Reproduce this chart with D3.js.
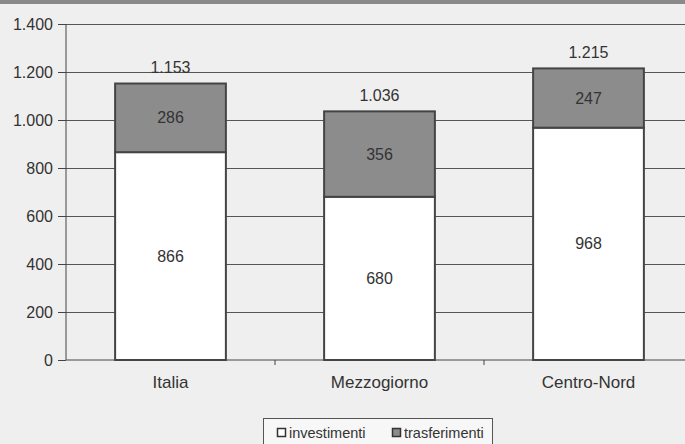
<!DOCTYPE html>
<html><head><meta charset="utf-8">
<script src="https://cdn.jsdelivr.net/npm/d3@7"></script>
<style>body{margin:0;background:#efefef;}svg{display:block;}svg text{font-family:"Liberation Sans",Arial,sans-serif;}</style>
</head><body><svg id="c" width="685" height="444"></svg>
<script>
const categories = ["Italia", "Mezzogiorno", "Centro-Nord"];
const investimenti = [866, 680, 968];
const trasferimenti = [286, 356, 247];
const totals = ["1.153", "1.036", "1.215"];
const yTicks = [0, 200, 400, 600, 800, 1000, 1200, 1400];
const seriesNames = ["investimenti", "trasferimenti"];
const seriesColors = ["#ffffff", "#8c8c8c"];

const fmt = v => d3.format(",")(v).replace(/,/g, ".");
const svg = d3.select("#c");
svg.append("rect").attr("width",685).attr("height",444).attr("fill","#efefef");
svg.append("rect").attr("width",685).attr("height",4).attr("fill","#8a8a8a");

const x = d3.scaleBand().domain(categories).range([66, 693]).paddingInner(0.47).paddingOuter(0.235);
const y = d3.scaleLinear().domain([0, 1400]).range([360, 24]);

// gridlines
svg.append("g").selectAll("line").data(yTicks.filter(t=>t>0)).join("line")
  .attr("x1",66).attr("x2",693).attr("y1",d=>y(d)).attr("y2",d=>y(d))
  .attr("stroke","#555").attr("stroke-width",1).attr("shape-rendering","crispEdges");

// y axis
const ya = svg.append("g").attr("transform","translate(66,0)")
  .call(d3.axisLeft(y).tickValues(yTicks).tickFormat(fmt).tickSize(8).tickPadding(5));
ya.select(".domain").attr("stroke","#444").attr("d","M0,24V360");
ya.selectAll(".tick line").attr("stroke","#444");
ya.selectAll("text").attr("fill","#333").style("font-size","16px");

// x axis
const bounds = [66, 66 + 209, 66 + 418, 693];
const xa = svg.append("g").attr("transform","translate(0,360)")
  .call(d3.axisBottom(x).tickSize(0).tickPadding(16));
xa.select(".domain").attr("stroke","#444").attr("d","M66,0H693");
xa.selectAll("text").attr("fill","#333").style("font-size","17px");
svg.append("g").selectAll("line").data(bounds.slice(1,3)).join("line")
  .attr("x1",d=>d).attr("x2",d=>d).attr("y1",360).attr("y2",365).attr("stroke","#444");

// stacked bars
const g = svg.append("g");
categories.forEach((c,i)=>{
  const inv = investimenti[i], tr = trasferimenti[i];
  g.append("rect").attr("x",x(c)).attr("width",x.bandwidth())
    .attr("y",y(inv)).attr("height",y(0)-y(inv))
    .attr("fill",seriesColors[0]).attr("stroke","#444").attr("stroke-width",2);
  g.append("rect").attr("x",x(c)).attr("width",x.bandwidth())
    .attr("y",y(inv+tr)).attr("height",y(inv)-y(inv+tr))
    .attr("fill",seriesColors[1]).attr("stroke","#444").attr("stroke-width",2);
  const cx = x(c) + x.bandwidth()/2;
  g.append("text").attr("x",cx).attr("y",(y(0)+y(inv))/2).attr("dy","0.35em")
    .attr("text-anchor","middle").attr("fill","#333").style("font-size","16px").text(fmt(inv));
  g.append("text").attr("x",cx).attr("y",(y(inv)+y(inv+tr))/2).attr("dy","0.35em")
    .attr("text-anchor","middle").attr("fill","#333").style("font-size","16px").text(fmt(tr));
  g.append("text").attr("x",cx).attr("y",y(inv+tr)-16).attr("dy","0.35em")
    .attr("text-anchor","middle").attr("fill","#333").style("font-size","16px").text(totals[i]);
});

// legend
const lg = svg.append("g");
lg.append("rect").attr("x",263.5).attr("y",418.5).attr("width",229).attr("height",40)
  .attr("fill","#f7f7f7").attr("stroke","#555");
const lx = [277, 392];
seriesNames.forEach((n,i)=>{
  lg.append("rect").attr("x",lx[i]+0.5).attr("y",428.5).attr("width",8).attr("height",8)
    .attr("fill",seriesColors[i]).attr("stroke","#333").attr("stroke-width",1.5);
  lg.append("text").attr("x",lx[i]+12).attr("y",438).attr("fill","#333")
    .style("font-size","14.5px").text(n);
});
</script></body></html>
